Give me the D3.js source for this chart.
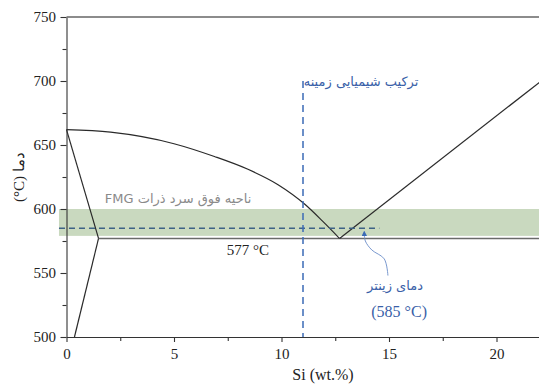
<!DOCTYPE html>
<html><head><meta charset="utf-8">
<script src="https://cdn.jsdelivr.net/npm/d3@7"></script>
<style>
html,body{margin:0;padding:0;background:#fff;}
svg{display:block;}
text{font-family:"Liberation Serif","DejaVu Serif",serif;}
.fa{font-family:"DejaVu Sans","Noto Sans",sans-serif;}
</style></head>
<body>
<svg id="chart" width="539" height="385"></svg>
<script>
// ---- data ----
const xTicks = [0, 5, 10, 15, 20];
const xMinorTicks = [2.5, 7.5, 12.5, 17.5];
const yTicks = [500, 550, 600, 650, 700, 750];
const yMinorTicks = [525, 575, 625, 675, 725];

const liquidusSi = [0, 2.05, 5, 6.88, 8.44, 9.84, 11.1, 11.91, 12.7];
const liquidusT  = [662, 660, 651, 641, 631, 619, 603.5, 590.5, 577];
const hyperSi = [12.7, 22];
const hyperT  = [577, 699];
const solidusSi = [0, 1.49];
const solidusT  = [662, 577];
const solvusSi = [1.49, 0.37];
const solvusT  = [577, 500];
const eutecticT = 577;
const eutecticSi = [1.49, 22];

const bandT = [579, 600];
const bandSi = [-0.35, 22];
const sinterT = 585;
const sinterSi = [-0.35, 14.55];
const compSi = 11.0;
const compT = [700, 500];

const arrowSi = [14.95, 14.78, 14.2, 13.9, 13.85];
const arrowT  = [548, 561, 568, 575, 581];

// ---- chart ----
const svg = d3.select("#chart");
const x = d3.scaleLinear().domain([0, 22]).range([66.5, 539.5]);
const y = d3.scaleLinear().domain([500, 750]).range([337, 17]);

// band
svg.append("rect")
  .attr("x", x(bandSi[0])).attr("width", x(bandSi[1]) - x(bandSi[0]))
  .attr("y", y(bandT[1])).attr("height", y(bandT[0]) - y(bandT[1]))
  .attr("fill", "#c9d9bf");

const line = d3.line().x(d => x(d[0])).y(d => y(d[1]));
const zip = (a, b) => a.map((v, i) => [v, b[i]]);

// eutectic horizontal
svg.append("path").attr("d", line(eutecticSi.map(s => [s, eutecticT])))
  .attr("stroke", "#6a6a6a").attr("stroke-width", 1.6).attr("fill", "none");

// liquidus (curved)
svg.append("path").attr("d", d3.line().x(d => x(d[0])).y(d => y(d[1])).curve(d3.curveMonotoneX)(zip(liquidusSi, liquidusT)))
  .attr("stroke", "#2a2a2a").attr("stroke-width", 1.2).attr("fill", "none");
[[hyperSi, hyperT], [solidusSi, solidusT], [solvusSi, solvusT]].forEach(([a, b]) => {
  svg.append("path").attr("d", line(zip(a, b)))
    .attr("stroke", "#2a2a2a").attr("stroke-width", 1.2).attr("fill", "none");
});

// sinter dashed line
svg.append("path").attr("d", line(sinterSi.map(s => [s, sinterT])))
  .attr("stroke", "#3d6285").attr("stroke-width", 1.5).attr("stroke-dasharray", "6,4").attr("fill", "none");

// composition dashed vertical
svg.append("path").attr("d", line(compT.map(t => [compSi, t])))
  .attr("stroke", "#3b6bb6").attr("stroke-width", 1.5).attr("stroke-dasharray", "7,5").attr("fill", "none");

// axes
const gx = svg.append("g").attr("transform", `translate(0,${y(500)})`)
  .call(d3.axisBottom(x).tickValues(xTicks).tickSize(5).tickSizeOuter(0).tickFormat(d3.format("d")));
const gxm = svg.append("g").attr("transform", `translate(0,${y(500)})`)
  .call(d3.axisBottom(x).tickValues(xMinorTicks).tickSize(4).tickFormat(""));
gxm.select(".domain").remove();
const gy = svg.append("g").attr("transform", `translate(${x(0)},0)`)
  .call(d3.axisLeft(y).tickValues(yTicks).tickSize(6).tickSizeOuter(0).tickFormat(d3.format("d")));
const gym = svg.append("g").attr("transform", `translate(${x(0)},0)`)
  .call(d3.axisLeft(y).tickValues(yMinorTicks).tickSize(4).tickFormat(""));
gym.select(".domain").remove();
[gx, gy, gxm, gym].forEach(g => {
  g.selectAll("path,line").attr("stroke", "#333").attr("stroke-width", 1.1);
  g.selectAll("text").attr("font-family", "Liberation Serif").attr("font-size", 15).attr("fill", "#222");
});
gx.selectAll("text").attr("dy", "0.95em");
gy.selectAll("text").attr("dx", "-0.1em");

// top frame line
svg.append("path").attr("d", line([[0, 750], [22, 750]]))
  .attr("stroke", "#666").attr("stroke-width", 1.5).attr("fill", "none");

// arrow
svg.append("defs").append("marker").attr("id", "ah")
  .attr("viewBox", "0 0 10 10").attr("refX", 5).attr("refY", 5)
  .attr("markerWidth", 6).attr("markerHeight", 6).attr("orient", "auto-start-reverse")
  .append("path").attr("d", "M0,0 L10,5 L0,10 z").attr("fill", "#3b6bb6");
svg.append("path")
  .attr("d", d3.line().x(d => x(d[0])).y(d => y(d[1])).curve(d3.curveCatmullRom)(zip(arrowSi, arrowT)))
  .attr("stroke", "#6a8cc8").attr("stroke-width", 0.9).attr("fill", "none")
  .attr("marker-end", "url(#ah)");

// labels
svg.append("text").attr("class", "fa").attr("x", x(13.7)).attr("y", y(696))
  .attr("text-anchor", "middle").attr("direction", "rtl").attr("font-size", 13).attr("fill", "#3a5fa8")
  .text("ترکیب شیمیایی زمینه");
svg.append("text").attr("class", "fa").attr("x", x(5.19)).attr("y", y(605))
  .attr("text-anchor", "middle").attr("direction", "rtl").attr("font-size", 13).attr("fill", "#8a8a8a")
  .text("ناحیه فوق سرد ذرات FMG");
svg.append("text").attr("x", x(8.44)).attr("y", y(564))
  .attr("text-anchor", "middle").attr("font-size", 15).attr("fill", "#222")
  .text("577 °C");
svg.append("text").attr("class", "fa").attr("x", x(15.28)).attr("y", y(537))
  .attr("text-anchor", "middle").attr("direction", "rtl").attr("font-size", 13).attr("fill", "#3a5fa8")
  .text("دمای زینتر");
svg.append("text").attr("x", x(15.47)).attr("y", y(516))
  .attr("text-anchor", "middle").attr("font-size", 16).attr("fill", "#3a5fa8")
  .text("(585 °C)");

// axis titles
svg.append("text").attr("x", 323).attr("y", 380)
  .attr("text-anchor", "middle").attr("font-size", 16).attr("fill", "#222")
  .text("Si (wt.%)");
svg.append("text").attr("transform", `translate(24,${y(625)}) rotate(-90)`)
  .attr("text-anchor", "middle").attr("font-size", 15).attr("fill", "#222")
  .text("(°C) دما");
</script>
</body></html>
